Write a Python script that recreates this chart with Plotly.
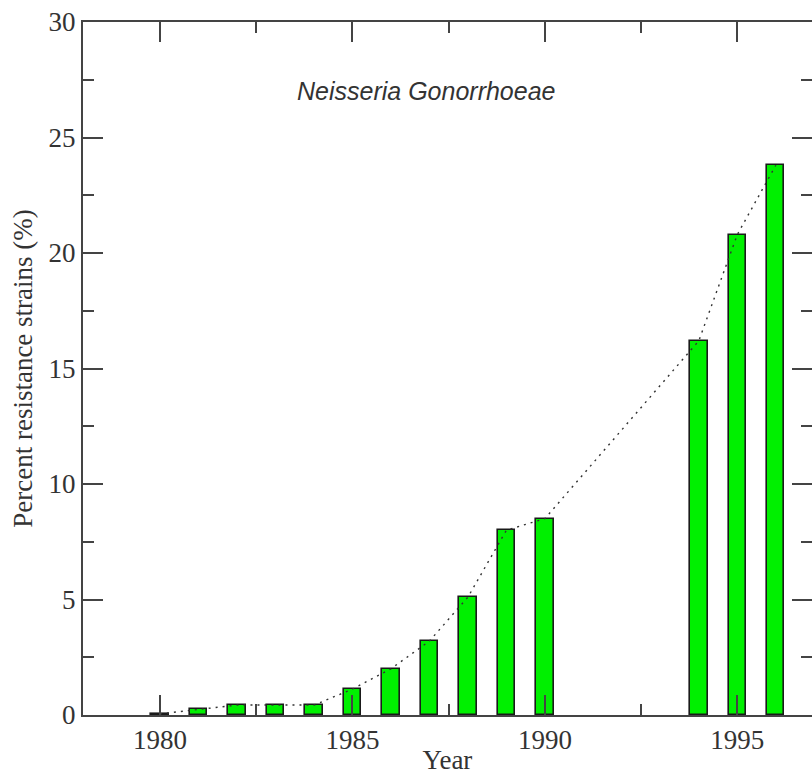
import plotly.graph_objects as go

years = [1980, 1981, 1982, 1983, 1984, 1985, 1986, 1987, 1988, 1989, 1990, 1994, 1995, 1996]
percent = [0.05, 0.25, 0.43, 0.43, 0.43, 1.12, 2.0, 3.2, 5.1, 8.0, 8.5, 16.2, 20.8, 23.8]
x_ticks = [1980, 1985, 1990, 1995]
y_ticks = [0, 5, 10, 15, 20, 25, 30]
title_text = "Neisseria Gonorrhoeae"

axis_col = "#444444"
font_family = "Liberation Serif"

fig = go.Figure()
fig.add_trace(go.Bar(
    x=years, y=percent, width=0.45,
    marker=dict(color="#00f000", line=dict(color="#1a1a1a", width=1.6)),
    showlegend=False, hoverinfo="skip",
))
fig.add_trace(go.Scatter(
    x=years, y=percent, mode="lines",
    line=dict(color="#333333", width=1.4, dash="2px,5px"),
    showlegend=False, hoverinfo="skip",
))
# invisible trace for right-side tick axis
fig.add_trace(go.Scatter(
    x=years, y=percent, mode="lines", yaxis="y2",
    line=dict(color="rgba(0,0,0,0)", width=0),
    showlegend=False, hoverinfo="skip",
))

fig.add_annotation(
    x=1986.9, y=27, xref="x", yref="y", text=title_text, showarrow=False,
    font=dict(family="Liberation Sans", size=25, color="#333333", style="italic"),
)

fig.update_layout(
    width=812, height=775,
    margin=dict(l=83, r=0, t=22, b=60),
    plot_bgcolor="white", paper_bgcolor="white",
    bargap=0,
    xaxis=dict(
        range=[1978, 1996.94], tickvals=x_ticks, ticktext=[str(v) for v in x_ticks],
        ticks="inside", ticklen=20, tickwidth=2, tickcolor=axis_col,
        showline=True, linecolor=axis_col, linewidth=2, mirror="ticks",
        showgrid=False, zeroline=False, automargin=False,
        minor=dict(tickvals=[1977.5, 1982.5, 1987.5, 1992.5], ticks="inside", ticklen=11,
                   tickwidth=2, tickcolor=axis_col, showgrid=False),
        tickfont=dict(family=font_family, size=27, color="#333333"),
        title=dict(text="Year", font=dict(family=font_family, size=27, color="#333333"), standoff=10),
    ),
    yaxis=dict(
        range=[0, 30], tickvals=y_ticks,
        ticks="inside", ticklen=20, tickwidth=2, tickcolor=axis_col,
        showline=True, linecolor=axis_col, linewidth=2, mirror=False,
        showgrid=False, zeroline=False, automargin=False,
        minor=dict(tickvals=[2.5, 7.5, 12.5, 17.5, 22.5, 27.5], ticks="inside", ticklen=11,
                   tickwidth=2, tickcolor=axis_col, showgrid=False),
        tickfont=dict(family=font_family, size=27, color="#333333"),
        title=dict(text="Percent resistance strains (%)",
                   font=dict(family=font_family, size=27, color="#333333"), standoff=8),
    ),
    yaxis2=dict(
        overlaying="y", side="right", range=[0, 30], tickvals=y_ticks,
        ticks="inside", ticklen=20, tickwidth=2, tickcolor=axis_col,
        showline=False, showgrid=False, zeroline=False, showticklabels=False,
        automargin=False,
        minor=dict(tickvals=[2.5, 7.5, 12.5, 17.5, 22.5, 27.5], ticks="inside", ticklen=11,
                   tickwidth=2, tickcolor=axis_col, showgrid=False),
    ),
)

fig.write_html("out.html")
